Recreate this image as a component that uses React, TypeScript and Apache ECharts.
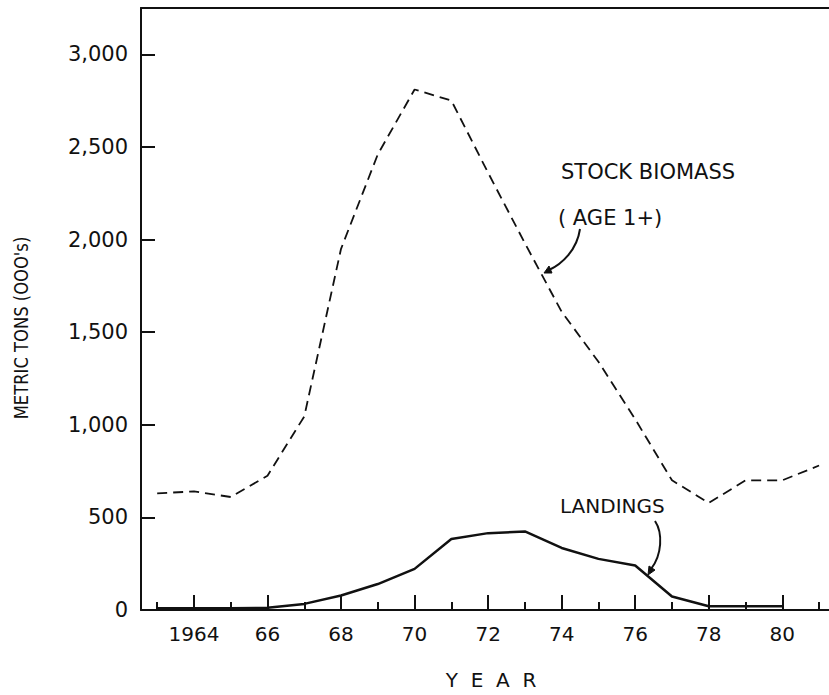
import React, { useEffect, useRef } from "react";
import * as echarts from "echarts";

const years = [1963, 1964, 1965, 1966, 1967, 1968, 1969, 1970, 1971, 1972, 1973, 1974, 1975, 1976, 1977, 1978, 1979, 1980, 1981];
const stockBiomass = [630, 640, 610, 725, 1045, 1950, 2460, 2810, 2750, 2360, 1980, 1610, 1340, 1030, 700, 578, 700, 700, 780];
const landingYears = [1963, 1964, 1965, 1966, 1967, 1968, 1969, 1970, 1971, 1972, 1973, 1974, 1975, 1976, 1977, 1978, 1979, 1980];
const landings = [10, 10, 10, 12, 33, 78, 140, 222, 383, 415, 424, 335, 276, 240, 73, 20, 20, 20];
const majorTickYears = [1964, 1966, 1968, 1970, 1972, 1974, 1976, 1978, 1980];
const minorTickYears = [1963, 1965, 1967, 1969, 1971, 1973, 1975, 1977, 1979, 1981];
const yTickValues = [0, 500, 1000, 1500, 2000, 2500, 3000];

const FONT = "DejaVu Sans";
const INK = "#111";

export default function App() {
  const ref = useRef<HTMLDivElement>(null);
  useEffect(() => {
    if (!ref.current) return;
    const chart = echarts.init(ref.current, null, { renderer: "svg" });
    const xMin = 1962.56;
    const xMax = 1981.27;
    const option: any = {
      animation: false,
      backgroundColor: "#fff",
      grid: { left: 141, right: 0, top: 8, bottom: 82, containLabel: false },
      xAxis: [
        {
          type: "value",
          min: xMin,
          max: xMax,
          position: "bottom",
          name: "Y  E  A  R",
          nameLocation: "middle",
          nameGap: 60,
          nameTextStyle: { fontFamily: FONT, fontSize: 20, color: INK, padding: [0, 0, 0, 12] },
          axisLine: { show: true, lineStyle: { color: INK, width: 2 } },
          axisTick: { show: true, inside: true, length: 15, customValues: majorTickYears, lineStyle: { color: INK, width: 2 } },
          axisLabel: {
            show: true,
            customValues: majorTickYears,
            margin: 14,
            fontFamily: FONT,
            fontSize: 20,
            color: INK,
            formatter: (v: number) => (Math.round(v) === 1964 ? "1964" : String(Math.round(v) % 100)),
          },
          splitLine: { show: false },
        },
        {
          type: "value",
          min: xMin,
          max: xMax,
          position: "bottom",
          axisLine: { show: false },
          axisTick: { show: true, inside: true, length: 8, customValues: minorTickYears, lineStyle: { color: INK, width: 2 } },
          axisLabel: { show: false },
          splitLine: { show: false },
        },
        {
          type: "value",
          min: xMin,
          max: xMax,
          position: "top",
          axisLine: { show: true, lineStyle: { color: INK, width: 2 } },
          axisTick: { show: false },
          axisLabel: { show: false },
          splitLine: { show: false },
        },
      ],
      yAxis: {
        type: "value",
        min: 0,
        max: 3250,
        axisLine: { show: true, lineStyle: { color: INK, width: 2 } },
        axisTick: { show: true, inside: true, length: 14, customValues: yTickValues.filter((v) => v > 0), lineStyle: { color: INK, width: 2 } },
        axisLabel: {
          show: true,
          customValues: yTickValues,
          margin: 13,
          fontFamily: FONT,
          fontSize: 21,
          color: INK,
          formatter: (v: number) => v.toLocaleString("en-US"),
        },
        splitLine: { show: false },
      },
      series: [
        {
          name: "STOCK BIOMASS (AGE 1+)",
          type: "line",
          xAxisIndex: 0,
          data: years.map((y, i) => [y, stockBiomass[i]]),
          symbol: "none",
          lineStyle: { color: INK, width: 1.8, type: [10, 6] },
        },
        {
          name: "LANDINGS",
          type: "line",
          xAxisIndex: 0,
          data: landingYears.map((y, i) => [y, landings[i]]),
          symbol: "none",
          lineStyle: { color: INK, width: 2.5, type: "solid" },
        },
      ],
      graphic: [
        {
          type: "text",
          x: 21,
          y: 328,
          rotation: Math.PI / 2,
          style: { text: "METRIC TONS (OOO's)", fontFamily: FONT, fontSize: 20, fill: INK, align: "center", verticalAlign: "middle" },
          scaleX: 0.82,
        },
        {
          type: "text",
          x: 561,
          y: 172,
          style: { text: "STOCK BIOMASS", fontFamily: FONT, fontSize: 21, fill: INK, align: "left", verticalAlign: "middle" },
        },
        {
          type: "text",
          x: 558,
          y: 218,
          style: { text: "( AGE 1+)", fontFamily: FONT, fontSize: 21, fill: INK, align: "left", verticalAlign: "middle" },
        },
        {
          type: "text",
          x: 560,
          y: 506,
          style: { text: "LANDINGS", fontFamily: FONT, fontSize: 20, fill: INK, align: "left", verticalAlign: "middle" },
        },
        {
          type: "bezierCurve",
          shape: { x1: 580, y1: 229, cpx1: 577, cpy1: 250, cpx2: 562, cpy2: 264, x2: 549, y2: 270 },
          style: { stroke: INK, lineWidth: 2, fill: "none" },
        },
        {
          type: "polygon",
          shape: { points: [[544, 273], [552, 273], [549, 266]] },
          style: { fill: INK, stroke: INK, lineWidth: 1 },
        },
        {
          type: "bezierCurve",
          shape: { x1: 655, y1: 521, cpx1: 663, cpy1: 533, cpx2: 662, cpy2: 555, x2: 651, y2: 569 },
          style: { stroke: INK, lineWidth: 2, fill: "none" },
        },
        {
          type: "polygon",
          shape: { points: [[648, 575], [655, 570], [649, 566]] },
          style: { fill: INK, stroke: INK, lineWidth: 1 },
        },
      ],
    };
    chart.setOption(option);
    return () => chart.dispose();
  }, []);
  return <div ref={ref} style={{ position: "absolute", left: 0, top: 0, width: 829, height: 695, background: "#fff" }} />;
}
